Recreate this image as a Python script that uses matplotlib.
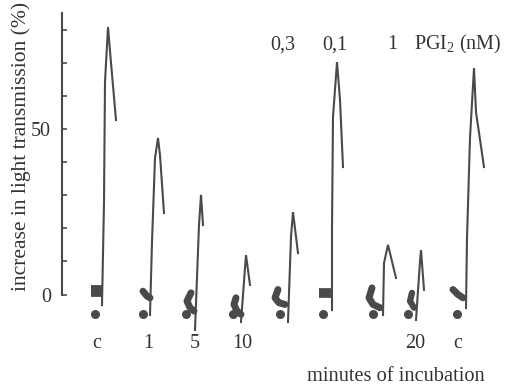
import matplotlib
matplotlib.use("Agg")
import matplotlib.pyplot as plt
from matplotlib.ticker import FixedLocator

# ---------------- data ----------------
lanes = [95, 143, 186, 233, 280, 323, 373, 408, 457]
bottom_labels = ["c", "1", "5", "10", "", "", "", "20", "c"]
bottom_label_x = [97, 148, 195, 242, None, None, None, 415, 458]
top_labels = ["0,3", "0,1", "1", "PGI$_2$ (nM)"]
top_label_x = [283, 335, 392, 458]

# traces: x offset from lane, increase in light transmission (%)
t1_dx = [7, 9, 10, 13, 16, 21]
t1_v = [-3.2, 27.9, 64.2, 80.8, 70.0, 52.7]
t2_dx = [7, 9, 12, 15, 17, 21]
t2_v = [-6.2, 15.9, 41.2, 47.3, 42.1, 24.6]
t3_dx = [9, 13, 15, 17]
t3_v = [-10.7, 21.0, 30.1, 21.0]
t4_dx = [8, 12, 13, 17]
t4_v = [-8.3, 8.0, 11.9, 2.9]
t5_dx = [8, 11, 13, 18]
t5_v = [-8.3, 17.4, 24.9, 12.5]
t6_dx = [9, 9, 10, 14, 17, 20]
t6_v = [-4.7, 20.0, 53.6, 70.2, 58.8, 38.5]
t7_dx = [10, 11, 15, 23]
t7_v = [-6.2, 9.5, 15.0, 5.0]
t8_dx = [8, 12, 13, 16]
t8_v = [-7.7, 10.0, 13.4, 1.4]
t9_dx = [9, 10, 13, 17, 19, 27]
t9_v = [-4.1, 17.0, 47.3, 68.4, 55.1, 38.5]
traces_dx = [t1_dx, t2_dx, t3_dx, t4_dx, t5_dx, t6_dx, t7_dx, t8_dx, t9_dx]
traces_v = [t1_v, t2_v, t3_v, t4_v, t5_v, t6_v, t7_v, t8_v, t9_v]

# baseline blobs before addition (x offset, value)
blob_dx = [[-4, 7], [0, 4, 7], [5, 1, 4, 8], [3, 1, 4, 8], [-2, -5, -1, 5],
           [-4, 9], [-1, -4, 0, 7], [4, 2, 6], [-4, 1, 6]]
blob_v = [[1.0, 1.0], [1.0, -0.5, -1.0], [0.5, -2.0, -4.0, -5.0], [-1.0, -3.0, -5.0, -6.0],
          [1.5, -1.0, -2.5, -3.0], [0.5, 0.5], [2.0, -1.0, -3.0, -4.0], [0.5, -2.0, -4.0],
          [1.5, 0.0, -1.0]]
blob_w = [8.5, 5, 5, 5, 5, 7, 5, 4.5, 5]
dot_v = -5.9

# ---------------- figure ----------------
plt.rcParams['font.family'] = ['Liberation Serif', 'DejaVu Serif']
plt.rcParams['mathtext.fontset'] = 'custom'
plt.rcParams['mathtext.rm'] = 'Liberation Serif'
plt.rcParams['mathtext.it'] = 'Liberation Serif:italic'
plt.rcParams['mathtext.default'] = 'rm'
ink = '#4a4a4a'
txt = '#333333'
fig = plt.figure(figsize=(5.05, 3.90), dpi=100)
ax = fig.add_axes([0, 0, 1, 1])
ax.set_xlim(0, 505)
ax.set_ylim(-28.85, 88.97)

for i, x0 in enumerate(lanes):
    xs = [x0 + d for d in traces_dx[i]]
    ax.plot(xs, traces_v[i], color=ink, lw=1.5, solid_joinstyle='miter')
    bx = [x0 + d for d in blob_dx[i]]
    cap = 'butt' if blob_w[i] >= 7 else 'round'
    ax.plot(bx, blob_v[i], color=ink, lw=blob_w[i], solid_capstyle=cap,
            solid_joinstyle='round')
    ax.plot([x0], [dot_v], 'o', color=ink, ms=6.5, mec='none')

for lab, x in zip(bottom_labels, bottom_label_x):
    if lab:
        ax.text(x, -14.7, lab, ha='center', va='center', fontsize=14.5, color=txt)
for lab, x in zip(top_labels, top_label_x):
    ax.text(x, 75.4, lab, ha='center', va='center', fontsize=14.5, color=txt)

ax.text(396, -24.9, 'minutes of incubation', ha='center', va='center',
        fontsize=14.7, color=txt)
ax.text(21, 44.7, 'increase in light transmission (%)', ha='center', va='center',
        rotation=90, fontsize=15.5, color=txt)

# y axis
for s in ['top', 'right', 'bottom']:
    ax.spines[s].set_visible(False)
ax.spines['left'].set_position(('data', 62))
ax.spines['left'].set_bounds(0, 85)
ax.spines['left'].set_color(ink)
ax.spines['left'].set_linewidth(1.5)
ax.set_xticks([])
ax.set_yticks([0, 50])
ax.set_yticklabels(['0', '50'])
ax.yaxis.set_minor_locator(FixedLocator([10, 20, 30, 40, 60, 70, 80]))
ax.tick_params(axis='y', which='both', direction='in', length=3.5, width=1.2,
               color=ink, labelsize=14.5, labelcolor=txt, pad=8)

fig.savefig('out.png', dpi=100, facecolor='white')
